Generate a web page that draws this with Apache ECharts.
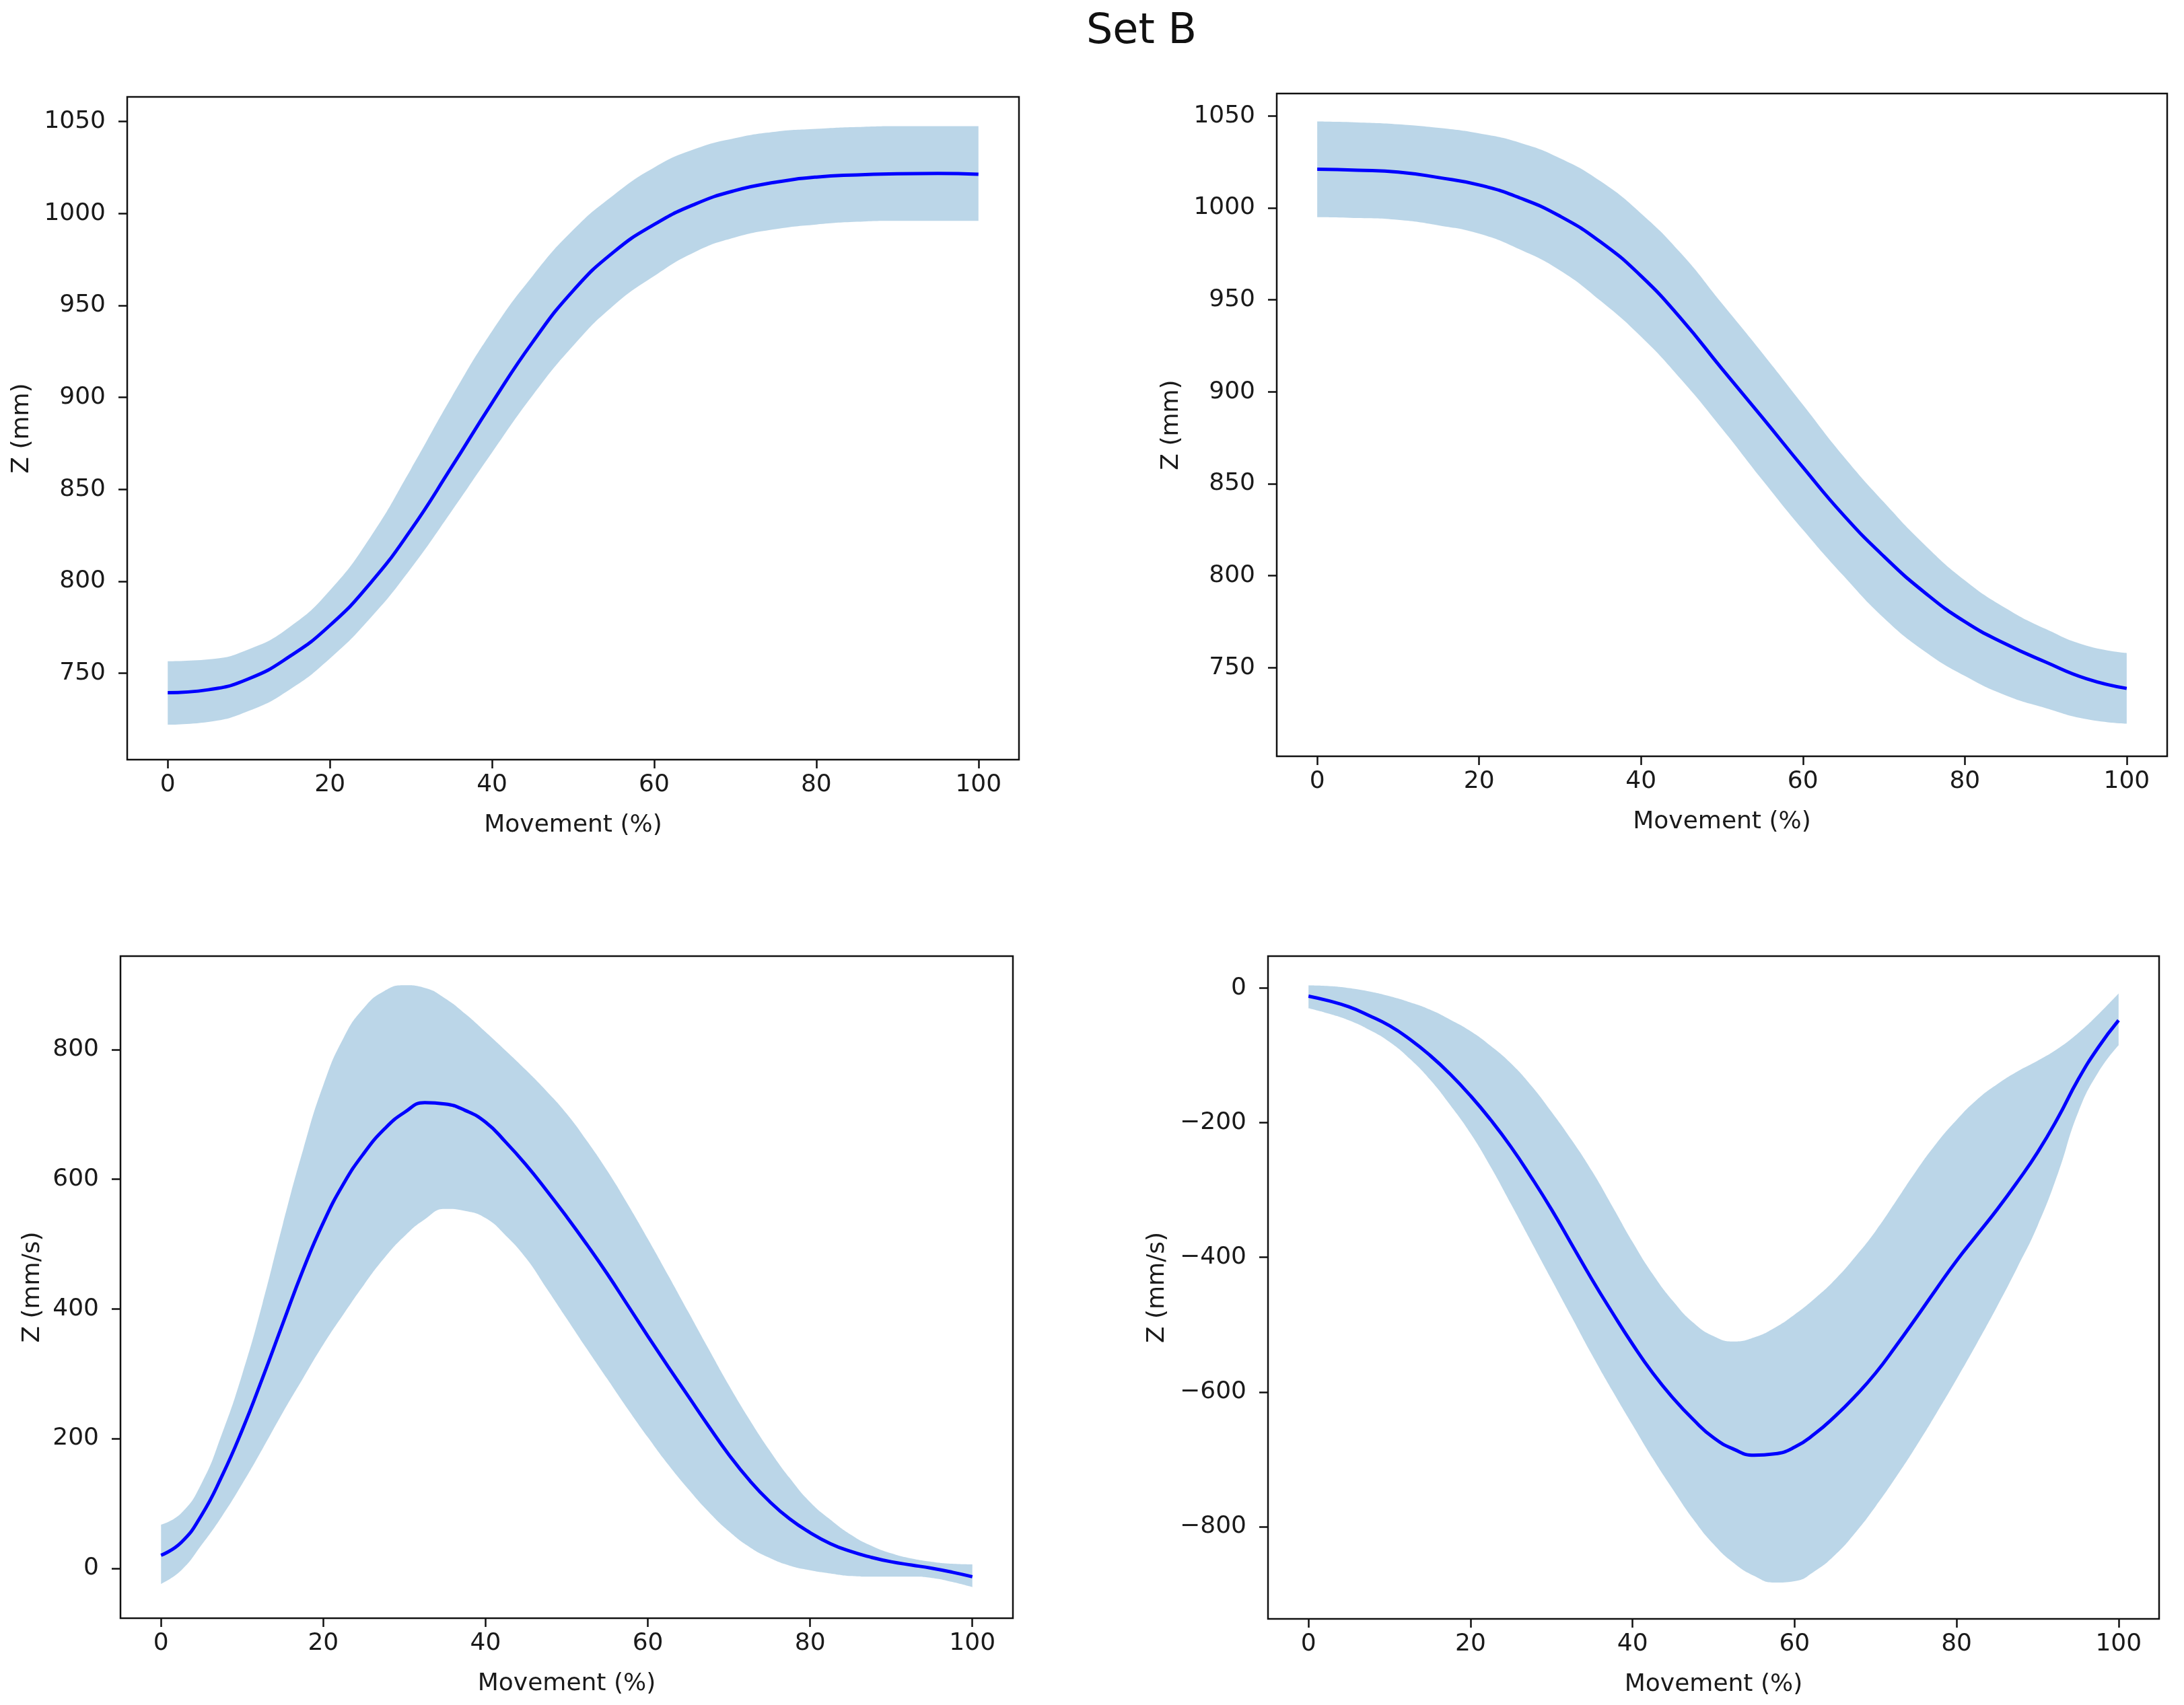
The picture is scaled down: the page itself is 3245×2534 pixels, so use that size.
<!DOCTYPE html>
<html>
<head>
<meta charset="utf-8">
<script src="https://cdn.jsdelivr.net/npm/echarts@6/dist/echarts.min.js"></script>
<style>
html,body{margin:0;padding:0;background:#ffffff;}
#chart{width:3245px;height:2534px;}
</style>
</head>
<body>
<div id="chart"></div>
<script>
// ---------- data ----------
const titleText = 'Set B';
const xName = 'Movement (%)';
const xTicks = [0, 20, 40, 60, 80, 100];

// Panel 1 : position, rising (mm)
const p1Name = 'Z (mm)';
const p1Ticks = [750, 800, 850, 900, 950, 1000, 1050];
const p1X     = [0, 5, 10, 15, 20, 25, 30, 35, 40, 45, 50, 55, 60, 65, 70, 75, 80, 85, 90, 95, 100];
const p1Mean  = [739.4, 741, 747, 759, 776, 799, 828, 862, 897, 930, 958, 979, 994, 1005, 1012.5, 1017, 1019.8, 1021, 1021.6, 1021.8, 1021.3];
const p1Upper = [756.5, 757.5, 763, 775, 795, 824, 861, 900, 936, 966, 991, 1010, 1025, 1035, 1041, 1044.5, 1046, 1047, 1047.5, 1047.5, 1047.5];
const p1Lower = [722, 723.5, 729.5, 741, 758, 780, 807, 838, 870, 901, 928, 950, 966, 979, 987, 991.5, 994, 995.5, 996, 996, 996];

// Panel 2 : position, falling (mm)
const p2Name = 'Z (mm)';
const p2Ticks = [750, 800, 850, 900, 950, 1000, 1050];
const p2X     = [0, 5, 10, 15, 20, 25, 30, 35, 40, 45, 50, 55, 60, 65, 70, 75, 80, 85, 90, 95, 100];
const p2Mean  = [1021, 1020.5, 1019.5, 1016.5, 1012.5, 1005.5, 995.5, 981.5, 963, 939.5, 912.5, 886, 859, 833, 810.5, 791, 775, 763, 753, 744, 738.7];
const p2Upper = [1047, 1046.5, 1045.5, 1043.5, 1040.5, 1035.5, 1027, 1014.5, 997, 975, 948, 921, 893, 865, 840, 817, 797.5, 782.5, 771, 762, 758];
const p2Lower = [995, 994.5, 993.5, 990.5, 986, 977.5, 966, 949.5, 930, 906.5, 880, 852, 825, 800, 777, 759, 745.5, 735, 728, 722, 719.5];

// Panel 3 : velocity, rising movement (mm/s)
const p3Name = 'Z (mm/s)';
const p3Ticks = [0, 200, 400, 600, 800];
const p3X     = [0, 2.5, 5, 7.5, 10, 12.5, 15, 17.5, 20, 22.5, 25, 27.5, 30, 32.5, 35, 37.5, 40, 42.5, 45, 47.5, 50,
                 52.5, 55, 57.5, 60, 62.5, 65, 67.5, 70, 72.5, 75, 77.5, 80, 82.5, 85, 87.5, 90, 92.5, 95, 97.5, 100];
const p3Mean  = [20, 40, 82, 142, 213, 293, 377, 460, 533, 593, 640, 677, 703, 718, 716, 706, 688, 657, 622, 583, 542,
                 499, 454, 406, 358, 311, 265, 219, 175, 136, 103, 76, 55, 38, 26, 17, 10, 5, 0, -6, -13];
const p3Upper = [67, 85, 131, 207, 299, 408, 530, 645, 745, 818, 864, 890, 899, 895, 879, 855, 827, 798, 768, 736, 701,
                 659, 613, 562, 508, 452, 395, 338, 282, 230, 182, 139, 102, 75, 52, 35, 23, 15, 10, 7, 6];
const p3Lower = [-24, -3, 36, 80, 130, 184, 240, 293, 345, 392, 437, 478, 512, 538, 554, 551, 540, 513, 478, 432, 385,
                 338, 292, 246, 202, 160, 122, 87, 57, 33, 16, 4, -3, -8, -12, -13, -13, -13, -15, -21, -29];

// Panel 4 : velocity, falling movement (mm/s)
const p4Name = 'Z (mm/s)';
const p4Ticks = [-800, -600, -400, -200, 0];
const p4X     = [0, 2.5, 5, 7.5, 10, 12.5, 15, 17.5, 20, 22.5, 25, 27.5, 30, 32.5, 35, 37.5, 40, 42.5, 45, 47.5, 50,
                 52.5, 55, 57.5, 60, 62.5, 65, 67.5, 70, 72.5, 75, 77.5, 80, 82.5, 85, 87.5, 90, 92.5, 95, 97.5, 100];
const p4Mean  = [-12, -19, -28, -41, -56, -76, -100, -128, -160, -196, -236, -281, -329, -381, -433, -482, -529, -572, -609, -641, -668,
                 -685, -694, -692, -682, -662, -636, -606, -572, -532, -490, -447, -405, -367, -329, -288, -244, -193, -136, -88, -48];
const p4Upper = [4, 3, 0, -5, -12, -21, -32, -47, -64, -86, -112, -145, -184, -226, -272, -324, -377, -425, -465, -497, -517,
                 -525, -519, -505, -485, -461, -433, -399, -361, -317, -272, -231, -196, -166, -143, -124, -108, -90, -67, -39, -8];
const p4Lower = [-30, -38, -48, -62, -80, -105, -136, -174, -216, -266, -321, -377, -433, -489, -545, -598, -649, -699, -745, -789, -826,
                 -854, -873, -883, -881, -866, -842, -809, -770, -727, -681, -632, -581, -528, -473, -415, -353, -276, -185, -125, -85];

// ---------- layout ----------
const FONT = 'DejaVu Sans';
const TXT = '#1a1a1a';
const BAND = 'rgba(31,119,180,0.3)';
const panels = [
  {x: p1X, mean: p1Mean, up: p1Upper, low: p1Lower, name: p1Name, ticks: p1Ticks, ymin: 703, ymax: 1063.4,
   grid: {left: 189, top: 144, width: 1325, height: 985}, nameGap: 138},
  {x: p2X, mean: p2Mean, up: p2Upper, low: p2Lower, name: p2Name, ticks: p2Ticks, ymin: 701.8, ymax: 1062.2,
   grid: {left: 1897, top: 139, width: 1323, height: 985}, nameGap: 138},
  {x: p3X, mean: p3Mean, up: p3Upper, low: p3Lower, name: p3Name, ticks: p3Ticks, ymin: -77, ymax: 944,
   grid: {left: 179, top: 1421, width: 1326, height: 984}, nameGap: 112},
  {x: p4X, mean: p4Mean, up: p4Upper, low: p4Lower, name: p4Name, ticks: p4Ticks, ymin: -937, ymax: 47.4,
   grid: {left: 1884, top: 1421, width: 1324, height: 985}, nameGap: 146}
];

const fmt = v => (v < 0 ? '\u2212' + Math.abs(v) : String(v));

const grids = [], xAxes = [], yAxes = [], series = [];
panels.forEach((p, i) => {
  grids.push(Object.assign({show: true, z: 10, borderColor: '#111', borderWidth: 2.5, backgroundColor: 'transparent', containLabel: false}, p.grid));
  xAxes.push({
    gridIndex: i, type: 'value', min: -5, max: 105,
    axisLine: {show: false, onZero: false},
    splitLine: {show: false},
    axisTick: {show: true, length: 13, lineStyle: {color: '#111', width: 2.5}, customValues: xTicks},
    axisLabel: {customValues: xTicks, fontSize: 36, fontFamily: FONT, color: TXT, margin: 20, formatter: fmt},
    name: xName, nameLocation: 'middle', nameGap: 80,
    nameTextStyle: {fontSize: 36, fontFamily: FONT, color: TXT}
  });
  yAxes.push({
    gridIndex: i, type: 'value', min: p.ymin, max: p.ymax,
    axisLine: {show: false, onZero: false},
    splitLine: {show: false},
    axisTick: {show: true, length: 13, lineStyle: {color: '#111', width: 2.5}, customValues: p.ticks},
    axisLabel: {customValues: p.ticks, fontSize: 36, fontFamily: FONT, color: TXT, margin: 32, formatter: fmt},
    name: p.name, nameLocation: 'middle', nameGap: p.nameGap, nameRotate: 90,
    nameTextStyle: {fontSize: 36, fontFamily: FONT, color: TXT}
  });
  // band = lower edge + (upper - lower) stacked; the value column comes first so it is the stacked one
  const lowData = p.x.map((v, k) => [p.low[k], v]);
  const bandData = p.x.map((v, k) => [p.up[k] - p.low[k], v]);
  const meanData = p.x.map((v, k) => [v, p.mean[k]]);
  series.push({
    type: 'line', xAxisIndex: i, yAxisIndex: i, data: lowData, encode: {x: 1, y: 0},
    stack: 'band' + i, stackStrategy: 'all',
    smooth: 0.5, symbol: 'none', showSymbol: false, lineStyle: {width: 0, opacity: 0}, silent: true, z: 1
  });
  series.push({
    type: 'line', xAxisIndex: i, yAxisIndex: i, data: bandData, encode: {x: 1, y: 0},
    stack: 'band' + i, stackStrategy: 'all',
    smooth: 0.5, symbol: 'none', showSymbol: false, lineStyle: {width: 0, opacity: 0},
    areaStyle: {color: BAND, opacity: 1}, silent: true, z: 1
  });
  series.push({
    type: 'line', xAxisIndex: i, yAxisIndex: i, data: meanData,
    smooth: 0.5, symbol: 'none', showSymbol: false, lineStyle: {color: '#0000ff', width: 5}, z: 3
  });
});

const chart = echarts.init(document.getElementById('chart'), null, {renderer: 'canvas'});
chart.setOption({
  backgroundColor: '#ffffff',
  animation: false,
  title: {
    text: titleText, left: 1691, top: 12, textAlign: 'center',
    textStyle: {fontSize: 62, fontWeight: 'normal', fontFamily: FONT, color: '#111'}
  },
  grid: grids,
  xAxis: xAxes,
  yAxis: yAxes,
  series: series
});
</script>
</body>
</html>
